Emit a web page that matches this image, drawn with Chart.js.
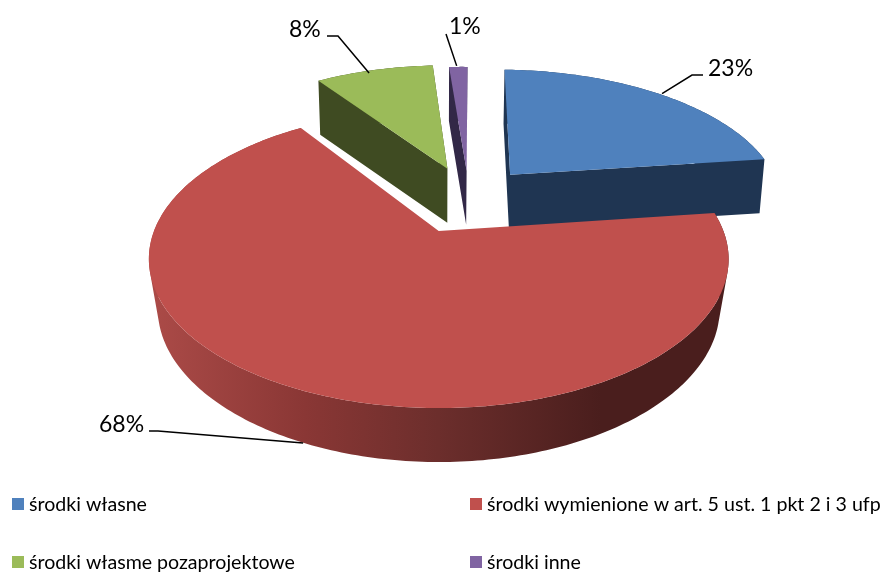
<!DOCTYPE html>
<html>
<head>
<meta charset="utf-8">
<style>html,body{margin:0;padding:0;background:#fff}canvas{display:block}</style>
<script src="https://cdn.jsdelivr.net/npm/chart.js@4"></script>
</head>
<body>
<canvas id="c" width="884" height="572"></canvas>
<script>
const categories = ['środki własne', 'środki wymienione w art. 5 ust. 1 pkt 2 i 3 ufp', 'środki własme pozaprojektowe', 'środki inne'];
const shares = [22.6, 67.6, 8.49, 1.31];
const faceColors = ['#4F81BD', '#C0504D', '#9BBB59', '#8064A2'];
const wallColors = ['#1F3552', '#4A1E1D', '#3F4B22', '#322847'];
const explode = [60.5, 67.6, 60.5, 53];

// view of the tilted pie plane
const VIEW = {cx: 438, cy: 231, sx: 284.7, sy: 100.3, persp: 0.188, depth: 54, centerU: 0.113, centerV: 0.244};
function project(u, v, low) {
  const d = 1 + VIEW.persp * v;
  let x = VIEW.sx * u / d, y = (VIEW.cy - VIEW.sy * v) / d;
  if (low) { x *= Math.min(0.985, 0.973 + 0.024 * v); y += VIEW.depth; }
  return [VIEW.cx + x, y];
}
function wedge(arc) {
  const mid = (arc.startAngle + arc.endAngle) / 2, off = arc.options.offset / arc.outerRadius;
  const au = VIEW.centerU + off * Math.cos(mid), av = VIEW.centerV - off * Math.sin(mid);
  return {mid, apex: [au, av], rim: a => [au + Math.cos(a), av - Math.sin(a)]};
}
function addPoly(ctx, pts) {
  let area = 0;
  pts.forEach((p, i) => { const q = pts[(i + 1) % pts.length]; area += p[0] * q[1] - q[0] * p[1]; });
  const list = area < 0 ? pts.slice().reverse() : pts;
  list.forEach((p, i) => i ? ctx.lineTo(p[0], p[1]) : ctx.moveTo(p[0], p[1]));
  ctx.closePath();
}
const leaders = [
  {elbow: [692, 75], end: [703, 75], text: [708, 76], low: false, nudge: [4, 0]},
  {elbow: [158, 431], end: [149, 431], text: [99, 432], low: true, nudge: [-1, 0]},
  {elbow: [338, 36], end: [327, 36], text: [289, 37], low: false, nudge: [-5, 3]},
  {elbow: [446, 34], end: [446, 34], text: [449, 34], low: false, nudge: [-1.6, -1]}
];
const FONT = 'Lato, "Open Sans", sans-serif';
const pie3d = {
  id: 'pie3d',
  beforeDatasetsDraw(chart) {
    const ctx = chart.ctx, arcs = chart.getDatasetMeta(0).data;
    const order = [0, 2, 3, 1];
    order.forEach(i => {
      const arc = arcs[i], w = wedge(arc), steps = Math.max(8, Math.round((arc.endAngle - arc.startAngle) * 60));
      const rimAt = k => w.rim(arc.startAngle + (arc.endAngle - arc.startAngle) * k / steps);
      let fill = wallColors[i];
      if (i === 1) {
        const g = ctx.createLinearGradient(148, 0, 728, 0);
        g.addColorStop(0, '#AC4B48'); g.addColorStop(0.27, '#8A3735'); g.addColorStop(0.5, '#6C2E2C');
        g.addColorStop(0.78, '#4A1E1D'); g.addColorStop(1, '#4A1E1D');
        fill = g;
      }
      ctx.fillStyle = fill;
      // side walls
      ctx.beginPath();
      if (i !== 1) {
        [0, steps].forEach(k => {
          const r = rimAt(k);
          addPoly(ctx, [project(w.apex[0], w.apex[1]), project(r[0], r[1]), project(r[0], r[1], true), project(w.apex[0], w.apex[1], true)]);
        });
      }
      for (let k = 0; k < steps; k++) {
        const a = rimAt(k), b = rimAt(k + 1);
        addPoly(ctx, [project(a[0], a[1]), project(b[0], b[1]), project(b[0], b[1], true), project(a[0], a[1], true)]);
      }
      ctx.fill();
      // top face
      const top = [project(w.apex[0], w.apex[1])];
      for (let k = 0; k <= steps; k++) { const r = rimAt(k); top.push(project(r[0], r[1])); }
      ctx.beginPath();
      addPoly(ctx, top);
      ctx.fillStyle = arc.options.backgroundColor;
      ctx.fill();
    });
    return false;
  },
  afterDraw(chart) {
    const ctx = chart.ctx, arcs = chart.getDatasetMeta(0).data, total = shares.reduce((a, b) => a + b, 0);
    ctx.save();
    ctx.textBaseline = 'alphabetic';
    ctx.fillStyle = '#000';
    // percentage labels with leader lines
    arcs.forEach((arc, i) => {
      const w = wedge(arc), L = leaders[i], r = w.rim(w.mid), p = project(r[0], r[1], L.low);
      ctx.beginPath();
      ctx.moveTo(p[0] + L.nudge[0], p[1] + L.nudge[1]);
      ctx.lineTo(L.elbow[0], L.elbow[1]);
      ctx.lineTo(L.end[0], L.end[1]);
      ctx.strokeStyle = '#000'; ctx.lineWidth = 1.5; ctx.stroke();
      ctx.font = '23px ' + FONT;
      ctx.fillText(Math.round(shares[i] / total * 100) + '%', L.text[0], L.text[1]);
    });
    // legend
    const cols = [12, 470], rows = [498, 556];
    categories.forEach((name, i) => {
      const x = cols[i % 2], y = rows[Math.floor(i / 2)];
      ctx.fillStyle = faceColors[i];
      ctx.fillRect(x, y, 12, 12);
      ctx.fillStyle = '#000';
      ctx.font = '19.6px ' + FONT;
      ctx.fillText(name, x + 17, y + 12.5);
    });
    ctx.restore();
  }
};
new Chart(document.getElementById('c'), {
  type: 'pie',
  data: {labels: categories, datasets: [{data: shares, backgroundColor: faceColors, offset: explode, borderWidth: 0}]},
  options: {
    responsive: false, animation: false, rotation: 1.3,
    plugins: {legend: {display: false}, tooltip: {enabled: false}}
  },
  plugins: [pie3d]
});
</script>
</body>
</html>
